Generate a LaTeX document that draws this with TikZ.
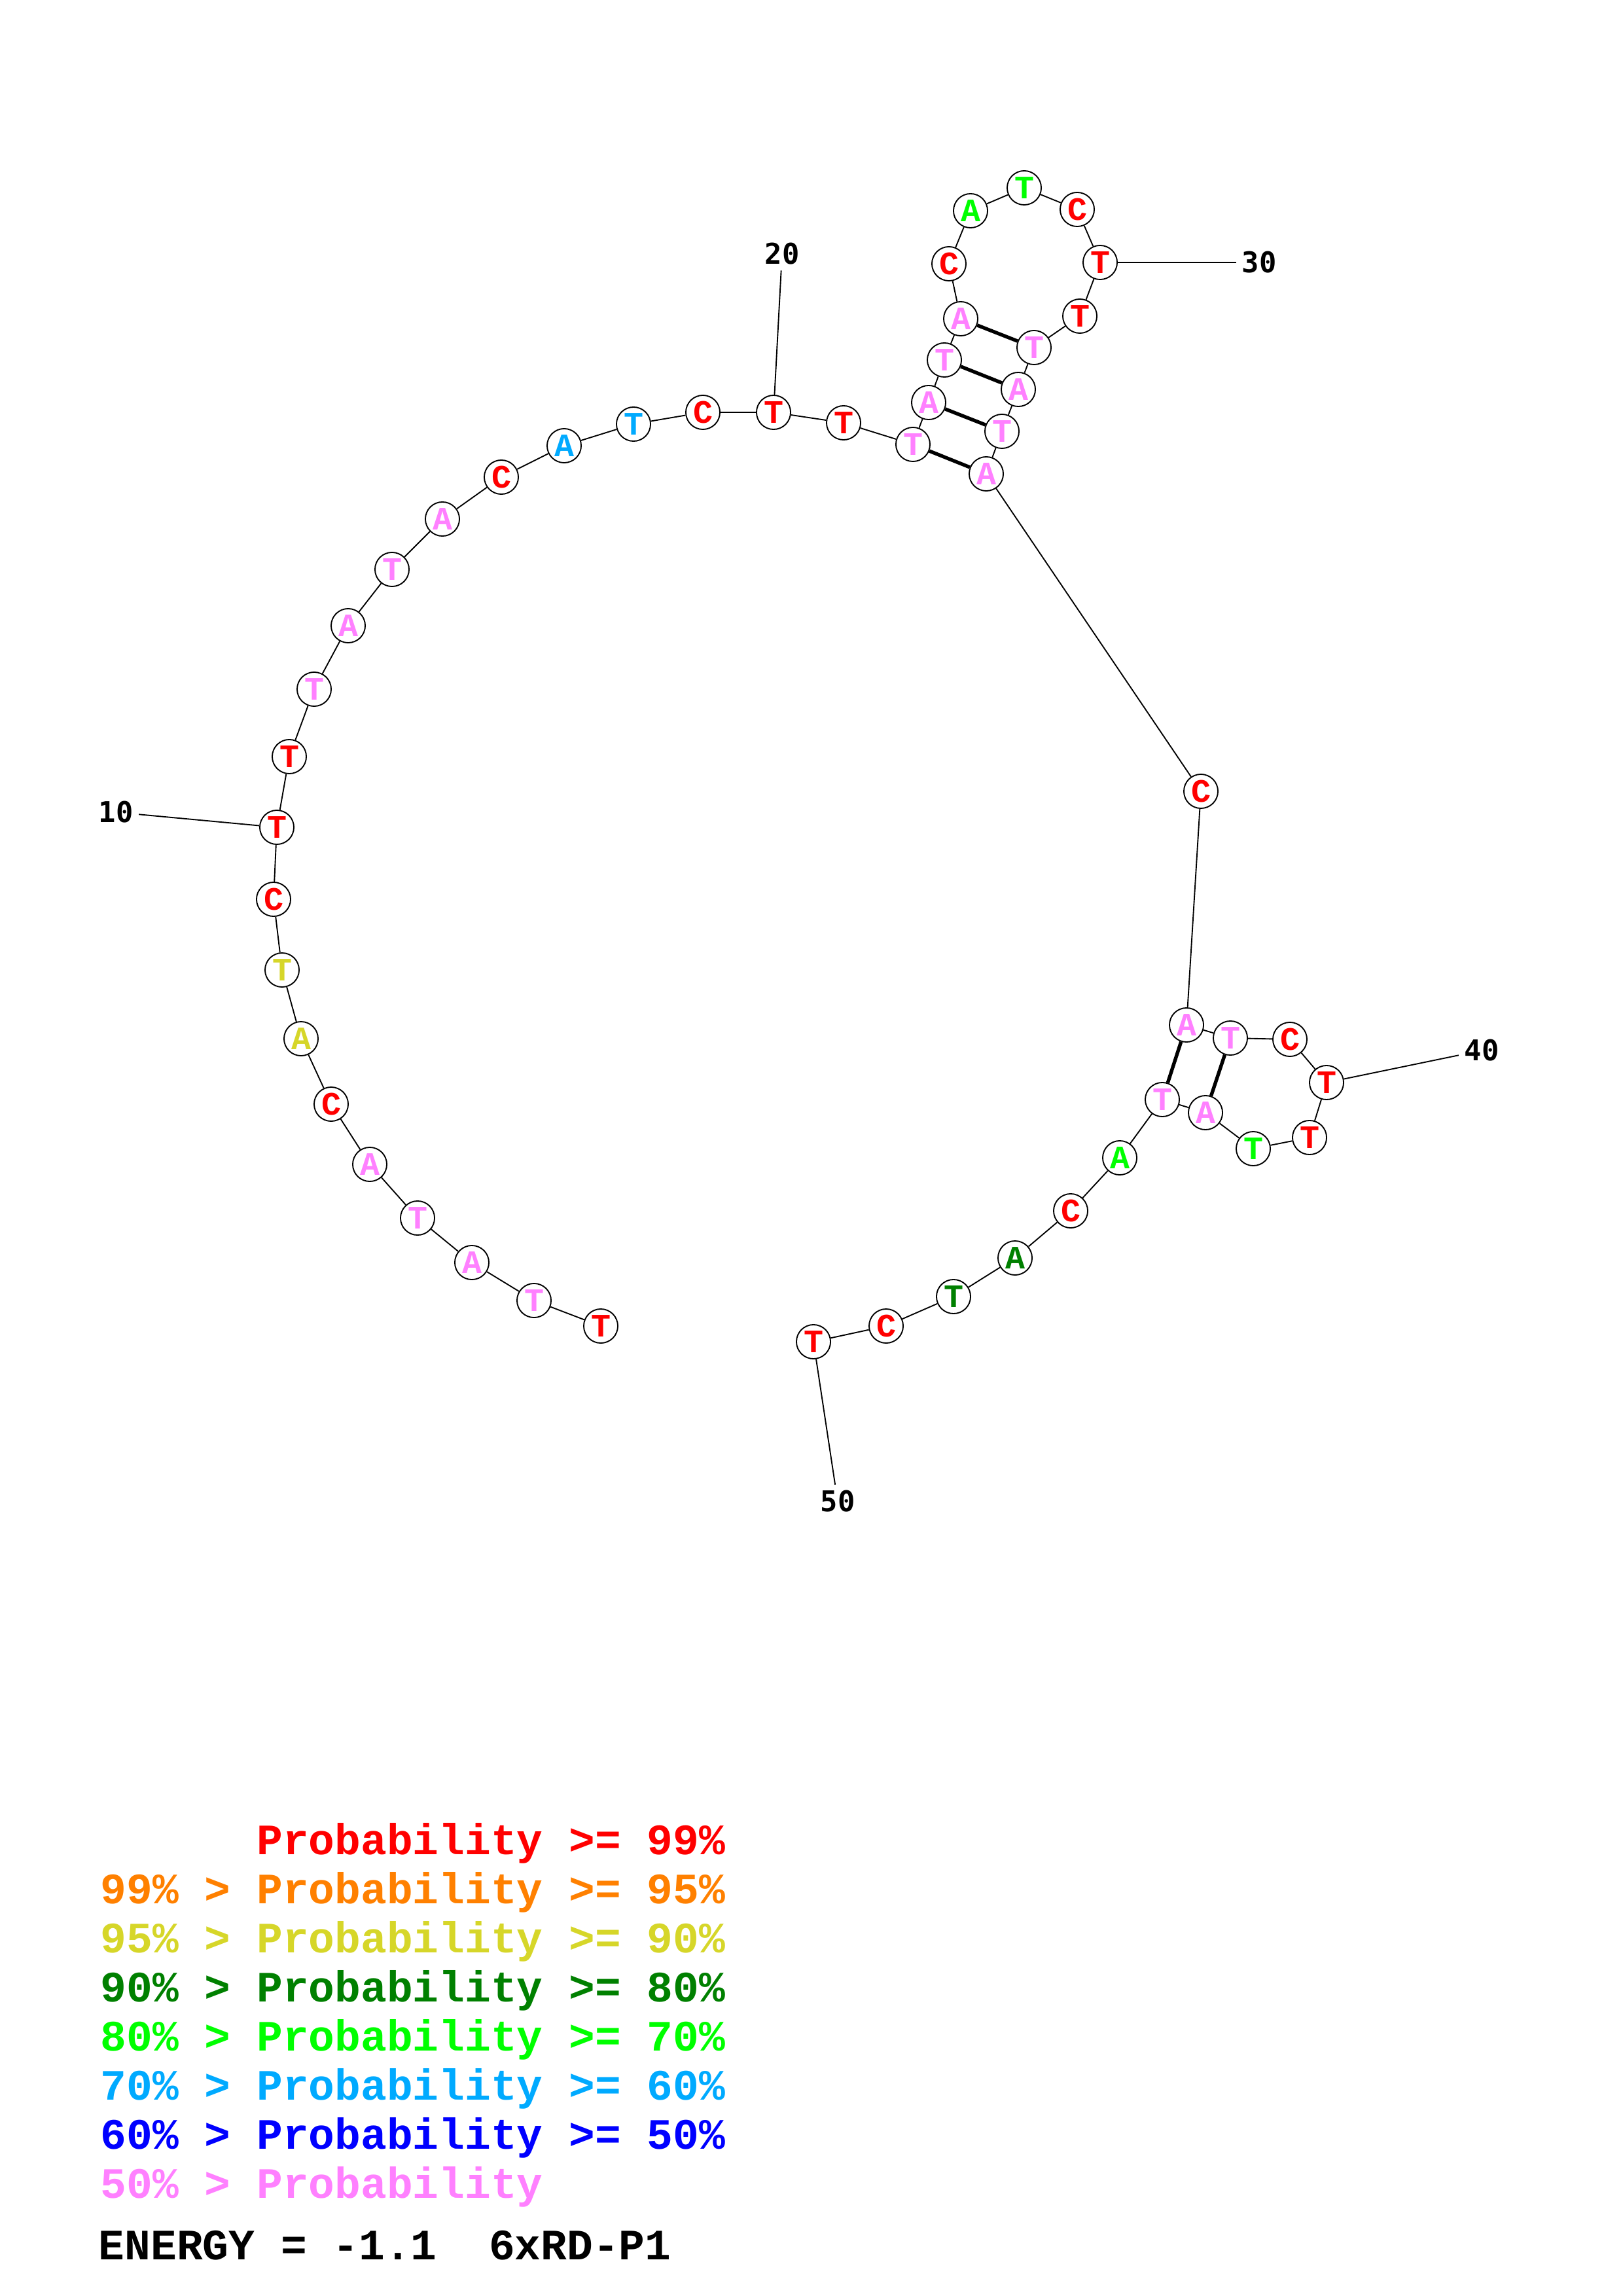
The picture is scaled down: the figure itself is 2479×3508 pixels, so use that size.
\documentclass[tikz,border=0pt]{standalone}
\usepackage{fontspec}
\newfontfamily\courfont{Liberation Mono}
\newfontfamily\labfont{DejaVu Sans Mono}
%
\definecolor{pr99}{RGB}{255,0,0}
\definecolor{pr95}{RGB}{255,128,0}
\definecolor{pr90}{RGB}{214,214,41}
\definecolor{pr80}{RGB}{0,128,0}
\definecolor{pr70}{RGB}{0,255,0}
\definecolor{pr60}{RGB}{0,170,255}
\definecolor{pr50}{RGB}{0,0,255}
\definecolor{prlow}{RGB}{255,128,255}
%
\tikzset{
  nt/.style={circle, draw, fill=white, minimum size=12.5pt, inner sep=0pt,
    font=\courfont\bfseries\fontsize{12}{12}\selectfont},
  pair/.style={line width=1.3pt},
  numlab/.style={inner sep=1.9pt, font=\labfont\bfseries\fontsize{10.5}{12}\selectfont},
  legtext/.style={anchor=base west, inner sep=0pt,
    font=\courfont\bfseries\fontsize{15.9}{18}\selectfont}
}
\begin{document}
\begin{tikzpicture}[line width=0.45pt, x=0.24pt, y=-0.24pt]
\useasboundingbox (0,0) rectangle (2479,3508);
%
\foreach \i/\x/\y/\b/\c in {
 1/918/2026/T/pr99, 2/816/1987/T/prlow, 3/721/1929/A/prlow, 4/638/1861/T/prlow,
 5/565/1779/A/prlow, 6/506/1687/C/pr99, 7/460/1587/A/pr90, 8/431/1482/T/pr90,
 9/418/1374/C/pr99, 10/423/1264/T/pr99, 11/442/1156/T/pr99, 12/480/1053/T/prlow,
 13/532/956/A/prlow, 14/599/870/T/prlow, 15/676/793/A/prlow, 16/766/729/C/pr99,
 17/862/681/A/pr60, 18/968/648/T/pr60, 19/1074/630/C/pr99, 20/1182/630/T/pr99,
 21/1289/646/T/pr99, 22/1395/679/T/prlow, 23/1419/615/A/prlow, 24/1443/550/T/prlow,
 25/1468/487/A/prlow, 26/1450/403/C/pr99, 27/1483/322/A/pr70, 28/1565/287/T/pr70,
 29/1646/320/C/pr99, 30/1681/401/T/pr99, 31/1650/483/T/pr99, 32/1580/531/T/prlow,
 33/1556/595/A/prlow, 34/1531/659/T/prlow, 35/1507/724/A/prlow, 36/1835/1209/C/pr99,
 37/1813/1566/A/prlow, 38/1880/1586/T/prlow, 39/1971/1588/C/pr99, 40/2027/1654/T/pr99,
 41/2001/1738/T/pr99, 42/1915/1755/T/pr70, 43/1842/1700/A/prlow, 44/1776/1680/T/prlow,
 45/1711/1769/A/pr70, 46/1636/1850/C/pr99, 47/1551/1922/A/pr80, 48/1457/1981/T/pr80,
 49/1354/2026/C/pr99, 50/1243/2050/T/pr99}
  \node[nt, text=\c] (n\i) at (\x,\y) {\b};
%
\foreach \i [count=\j from 2] in {1,...,49}
  \draw (n\i) -- (n\j);
%
\foreach \p/\q in {22/35, 23/34, 24/33, 25/32, 37/44, 38/43}
  \draw[pair] (n\p) -- (n\q);
%
\foreach \k/\x/\y in {10/177/1241, 20/1195/388, 30/1924/401, 40/2264/1605, 50/1280/2294} {
  \node[numlab] (l\k) at (\x,\y) {\k};
  \draw (n\k) -- (l\k);
}
%
\node[legtext, text=pr99] (leg99) at (153,2833) {\phantom{99\% > }Probability >= 99\%};
\node[legtext, text=pr95] (leg95) at (153,2908) {99\% > Probability >= 95\%};
\node[legtext, text=pr90] (leg90) at (153,2983) {95\% > Probability >= 90\%};
\node[legtext, text=pr80] (leg80) at (153,3058) {90\% > Probability >= 80\%};
\node[legtext, text=pr70] (leg70) at (153,3133) {80\% > Probability >= 70\%};
\node[legtext, text=pr60] (leg60) at (153,3208) {70\% > Probability >= 60\%};
\node[legtext, text=pr50] (leg50) at (153,3283) {60\% > Probability >= 50\%};
\node[legtext, text=prlow] (leglow) at (153,3358) {50\% > Probability};
%
\node[legtext] (energy) at (150,3452) {ENERGY = -1.1\ \ 6xRD-P1};
%
\end{tikzpicture}
\end{document}
